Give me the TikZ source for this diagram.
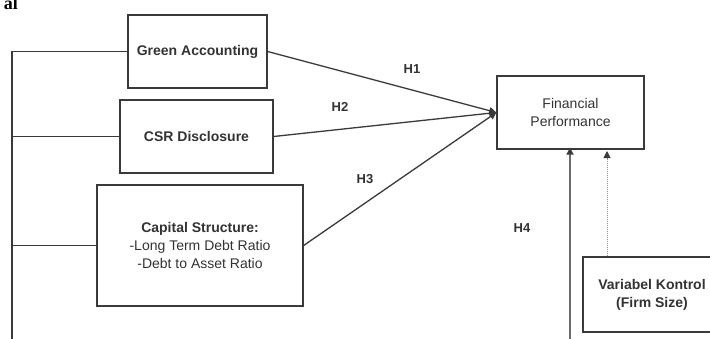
\documentclass[tikz,border=0pt]{standalone}
\usepackage{fontspec}
\setmainfont{Liberation Sans}
\newfontfamily\serifbold{Liberation Serif}
\usetikzlibrary{arrows.meta}
\definecolor{ln}{HTML}{3A3A3A}
\definecolor{tx}{HTML}{333333}
\begin{document}
\begin{tikzpicture}[x=1pt,y=-1pt,
  box/.style={draw=ln,line width=1.3pt,fill=white,inner sep=0pt,align=center,text=tx,font=\fontsize{14}{18}\selectfont},
  conn/.style={draw=ln,line width=1.3pt},
  arr/.style={conn,-{Triangle[length=7pt,width=7pt]}},
  hlab/.style={text=tx,font=\bfseries\fontsize{13}{15}\selectfont,inner sep=0pt}]
\useasboundingbox (0,0) rectangle (710,338);
\clip (0,0) rectangle (710,338);
\fill[white] (0,0) rectangle (710,338);
\node[anchor=base east,inner sep=0pt,font=\serifbold\bfseries\fontsize{18}{20}\selectfont] (al) at (18,9) {al};
\node[box,minimum width=139pt,minimum height=73pt,font=\bfseries\fontsize{14}{18}\selectfont] (GA) at (197.5,51.5) {Green Accounting};
\node[box,minimum width=153pt,minimum height=73pt,font=\bfseries\fontsize{14}{18}\selectfont] (CSR) at (196.5,136.5) {CSR Disclosure};
\node[box,minimum width=206pt,minimum height=121pt] (CS) at (200,245.5) {\textbf{Capital Structure:}\\-Long Term Debt Ratio\\-Debt to Asset Ratio};
\node[box,minimum width=147pt,minimum height=73pt] (FP) at (570.5,112.5) {Financial\\Performance};
\node[box,minimum width=138pt,minimum height=75pt,font=\bfseries\fontsize{14}{18}\selectfont] (VK) at (652,294.5) {Variabel Kontrol\\(Firm Size)};
\coordinate (lb) at (12,345);
\coordinate (bb) at (570,345);
\coordinate (vt) at (607,151);
\draw[conn] (GA.west) -| (lb);
\draw[conn] (CSR.west) -- (CSR.west -| lb);
\draw[conn] (CS.west) -- (CS.west -| lb);
\draw[arr] (GA.east) -- (FP.west);
\draw[arr] (CSR.east) -- (FP.west);
\draw[arr] (CS.east) -- (FP.west);
\draw[conn,draw=ln!75,line width=1.8pt,-{Triangle[length=7pt,width=7pt,color=ln]}] (bb) -- ([yshift=2pt]bb |- FP.south);
\draw[draw=ln!55,densely dotted,line width=1pt,-{Triangle[length=7pt,width=7pt,color=ln]}] (VK.north -| vt) -- (vt);
\node[hlab] (H1) at (412,69) {H1};
\node[hlab] (H2) at (340,107) {H2};
\node[hlab] (H3) at (365,179) {H3};
\node[hlab] (H4) at (522,228) {H4};
\end{tikzpicture}
\end{document}
